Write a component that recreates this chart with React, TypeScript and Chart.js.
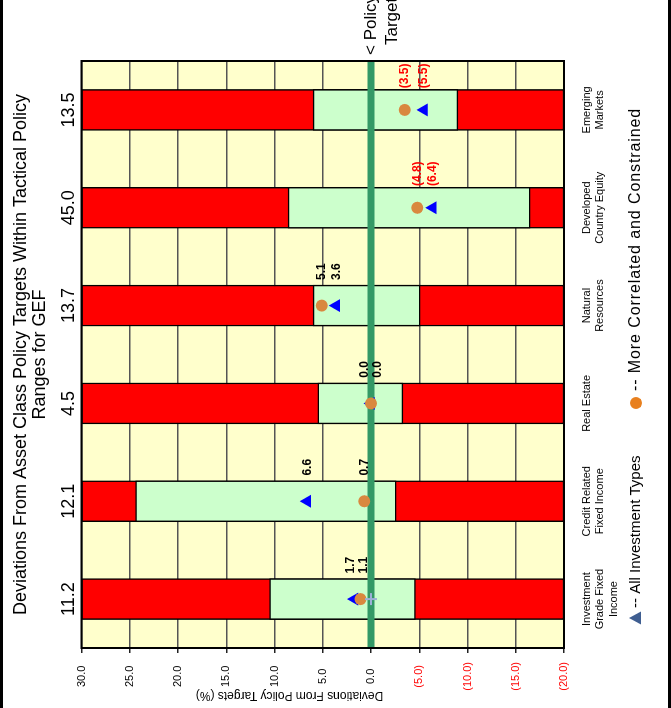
import React, { useEffect, useRef } from 'react';
import { Chart, registerables } from 'chart.js';

Chart.register(...registerables);

// Asset classes (multi-line axis labels)
const categories: string[][] = [
  ['Investment', 'Grade Fixed', 'Income'],
  ['Credit Related', 'Fixed Income'],
  ['Real Estate'],
  ['Natural', 'Resources'],
  ['Developed', 'Country Equity'],
  ['Emerging', 'Markets'],
];

// Policy target weights (%) shown above each column
const policyTargets = [11.2, 12.1, 4.5, 13.7, 45.0, 13.5];

// Tactical policy range, as deviation from target (%)
const rangeUpper = [10.5, 24.4, 5.5, 6.0, 8.6, 6.0];
const rangeLower = [-4.6, -2.6, -3.3, -5.1, -16.5, -9.0];

// Current deviations from policy targets (%)
const allInvestmentTypes = [1.7, 6.6, 0.0, 3.6, -6.4, -5.5];
const correlatedConstrained = [1.1, 0.7, 0.0, 5.1, -4.8, -3.5];
const policyMarker: (number | null)[] = [0.0, null, null, null, null, null];

// Value axis bounds
const axisMax = 30;
const axisMin = -20;
const axisStep = 5;

const FONT = '"Liberation Sans", Arial, Helvetica, sans-serif';
Chart.defaults.font.family = FONT;
Chart.defaults.color = '#000';

// canvas size in its own (unrotated) frame
const W = 760;
const H = 671;
const SHIFT = 716;

const fmt = (v: number) => (v < 0 ? `(${(-v).toFixed(1)})` : v.toFixed(1));

const TRI_DS = 3;
const CIR_DS = 4;

const decorations = {
  id: 'decorations',
  beforeDraw(chart: any) {
    const { ctx, chartArea: a } = chart;
    ctx.save();
    ctx.fillStyle = '#ffffff';
    ctx.fillRect(0, 0, chart.width, chart.height);
    ctx.fillStyle = '#FFFFCC';
    ctx.fillRect(a.left, a.top, a.right - a.left, a.bottom - a.top);
    ctx.restore();
  },
  afterDatasetsDraw(chart: any) {
    const { ctx, chartArea: a } = chart;
    ctx.save();
    // plot frame
    ctx.strokeStyle = '#000';
    ctx.lineWidth = 2;
    ctx.strokeRect(a.left, a.top, a.right - a.left, a.bottom - a.top);

    // value labels beside the markers
    const tri = chart.getDatasetMeta(TRI_DS).data;
    const cir = chart.getDatasetMeta(CIR_DS).data;
    ctx.font = `bold 12px ${FONT}`;
    ctx.textAlign = 'center';
    ctx.textBaseline = 'middle';
    for (let i = 0; i < categories.length; i++) {
      const pt = tri[i];
      const pc = cir[i];
      const triUpper = pt.y <= pc.y;
      let up = Math.min(pt.y, pc.y);
      let low = Math.max(pt.y, pc.y);
      if (low - up < 13) {
        const m = (up + low) / 2;
        up = m - 6.5;
        low = m + 6.5;
      }
      const items = [
        { v: allInvestmentTypes[i], y: triUpper ? up : low },
        { v: correlatedConstrained[i], y: triUpper ? low : up },
      ];
      for (const it of items) {
        ctx.fillStyle = it.v < 0 ? '#ff0000' : '#000';
        ctx.fillText(fmt(it.v), pt.x + 34, it.y);
      }
    }
    ctx.restore();
  },
  afterDraw(chart: any) {
    const { ctx, chartArea: a, scales } = chart;
    ctx.save();
    // outer frame
    ctx.strokeStyle = '#000';
    ctx.lineWidth = 3;
    ctx.strokeRect(1.5, 1.5, chart.width - 3, chart.height - 3);

    // value axis title
    ctx.save();
    ctx.translate(21, 289.5);
    ctx.rotate(-Math.PI / 2);
    ctx.font = `12px ${FONT}`;
    ctx.fillStyle = '#000';
    ctx.textAlign = 'center';
    ctx.textBaseline = 'middle';
    ctx.fillText('Deviations From Policy Targets (%)', 0, 0);
    ctx.restore();

    // policy target pointer at the zero line
    const y0 = scales.y.getPixelForValue(0);
    ctx.font = `17px ${FONT}`;
    ctx.fillStyle = '#000';
    ctx.textAlign = 'left';
    ctx.textBaseline = 'middle';
    ctx.fillText('< Policy', a.right + 6, y0);
    ctx.fillText('Target', a.right + 16, y0 + 21);

    // legend
    const ly = 636;
    const tx = a.left + 30;
    ctx.fillStyle = '#3F5E91';
    ctx.beginPath();
    ctx.moveTo(tx, ly - 7);
    ctx.lineTo(tx + 6.5, ly + 5);
    ctx.lineTo(tx - 6.5, ly + 5);
    ctx.closePath();
    ctx.fill();
    ctx.fillStyle = '#000';
    ctx.font = `15px ${FONT}`;
    ctx.fillText('-- All Investment Types', tx + 10, ly);

    const cx = a.left + 245;
    ctx.fillStyle = '#E8801F';
    ctx.beginPath();
    ctx.arc(cx, ly, 6, 0, Math.PI * 2);
    ctx.fill();
    ctx.fillStyle = '#000';
    ctx.font = `16px ${FONT}`;
    (ctx as any).letterSpacing = '0.9px';
    ctx.fillText('-- More Correlated and Constrained', cx + 12, ly);
    (ctx as any).letterSpacing = '0px';
    ctx.restore();
  },
};

export default function App() {
  const ref = useRef<HTMLCanvasElement>(null);

  useEffect(() => {
    if (!ref.current) return;
    const chart = new Chart(ref.current, {
      type: 'bar',
      data: {
        labels: categories,
        datasets: [
          {
            type: 'bar',
            label: 'Outside range',
            data: categories.map(() => [axisMin, axisMax]) as any,
            backgroundColor: '#FF0000',
            borderColor: '#000',
            borderWidth: 1.5,
            borderSkipped: false,
            barThickness: 41,
            grouped: false,
            order: 5,
          },
          {
            type: 'bar',
            label: 'Tactical range',
            data: rangeLower.map((lo, i) => [lo, rangeUpper[i]]) as any,
            backgroundColor: '#CCFFCC',
            borderColor: '#000',
            borderWidth: 1.5,
            borderSkipped: false,
            barThickness: 41,
            grouped: false,
            order: 4,
          },
          {
            type: 'line',
            label: 'Policy target',
            xAxisID: 'xLine',
            data: [
              { x: 0, y: 0 },
              { x: 1, y: 0 },
            ] as any,
            borderColor: '#339966',
            borderWidth: 7,
            pointRadius: 0,
            order: 3,
          },
          {
            type: 'line',
            label: 'All Investment Types',
            data: allInvestmentTypes,
            showLine: false,
            pointStyle: 'triangle',
            pointRadius: 7.5,
            backgroundColor: '#0000FF',
            borderColor: '#0000FF',
            borderWidth: 0,
            order: 2,
          },
          {
            type: 'line',
            label: 'More Correlated and Constrained',
            data: correlatedConstrained,
            showLine: false,
            pointStyle: 'circle',
            pointRadius: 6,
            backgroundColor: '#D9883F',
            borderColor: '#D9883F',
            borderWidth: 0,
            order: 1,
          },
          {
            type: 'line',
            label: 'Target marker',
            data: policyMarker,
            showLine: false,
            pointStyle: 'cross',
            pointRadius: 6,
            borderColor: '#9DB0D8',
            borderWidth: 2,
            order: 0,
          },
        ],
      },
      options: {
        responsive: false,
        animation: false,
        devicePixelRatio: 1,
        layout: { padding: { left: 0, top: 0, right: W - 655, bottom: 0 } },
        plugins: {
          legend: { display: false },
          tooltip: { enabled: false },
          title: {
            display: true,
            fullSize: false,
            text: [
              'Deviations From Asset Class Policy Targets Within Tactical Policy',
              'Ranges for GEF',
            ],
            color: '#000',
            font: { size: 18, weight: 'normal', lineHeight: 1.05 },
            padding: { top: 12, bottom: 0 },
          },
        },
        scales: {
          x: {
            type: 'category',
            position: 'bottom',
            grid: { display: false, drawTicks: false },
            border: { display: false },
            ticks: {
              font: { size: 11, lineHeight: 1.22 },
              color: '#000',
              padding: 16,
              maxRotation: 0,
              minRotation: 0,
              autoSkip: false,
            },
            afterFit: (s: any) => {
              s.height = 107;
            },
          },
          x2: {
            type: 'category',
            position: 'top',
            labels: policyTargets.map((v) => v.toFixed(1)),
            offset: true,
            grid: { display: false, drawTicks: false, offset: true },
            border: { display: false },
            ticks: {
              font: { size: 18 },
              color: '#000',
              padding: 2,
              maxRotation: 0,
              minRotation: 0,
              autoSkip: false,
            },
            afterFit: (s: any) => {
              s.height = 31.7;
            },
          },
          xLine: {
            type: 'linear',
            display: false,
            offset: false,
            grid: { offset: false },
            min: 0,
            max: 1,
          },
          y: {
            type: 'linear',
            min: axisMin,
            max: axisMax,
            border: { display: false },
            grid: {
              color: '#555',
              lineWidth: 1.5,
              drawTicks: true,
              tickLength: 5,
              tickColor: '#222',
            },
            ticks: {
              stepSize: axisStep,
              font: { size: 11 },
              padding: 9,
              crossAlign: 'center',
              color: (c: any) => (c.tick && c.tick.value < 0 ? '#ff0000' : '#000'),
              callback: (v: any) => fmt(Number(v)),
            },
            afterFit: (s: any) => {
              s.width = 68;
            },
          },
        },
      },
      plugins: [decorations],
    } as any);
    return () => chart.destroy();
  }, []);

  return (
    <div
      style={{
        position: 'fixed',
        left: 0,
        top: 0,
        width: 671,
        height: 708,
        overflow: 'hidden',
        background: '#fff',
      }}
    >
      <div
        style={{
          position: 'absolute',
          left: 0,
          top: 0,
          width: W,
          height: H,
          transformOrigin: '0 0',
          transform: `translate(0px, ${SHIFT}px) rotate(-90deg)`,
        }}
      >
        <canvas ref={ref} width={W} height={H} style={{ display: 'block', width: W, height: H }} />
      </div>
    </div>
  );
}
